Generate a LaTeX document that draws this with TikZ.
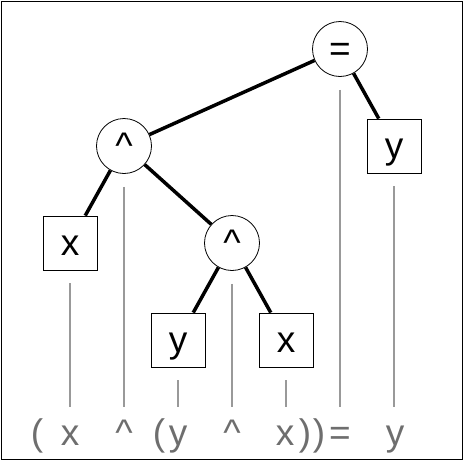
\documentclass[tikz,border=0pt]{standalone}
\usepackage{fontspec}
\setmainfont{Liberation Sans}
\usetikzlibrary{positioning}

\begin{document}
\begin{tikzpicture}[x=1pt,y=-1pt,
	every node/.style={font=\fontsize{37}{40}\selectfont},
	op/.style={circle,draw,line width=0.8pt,minimum size=55pt,inner sep=0pt,text height=30pt,text depth=5pt},
	leaf/.style={rectangle,draw,line width=0.8pt,minimum size=54pt,inner sep=0pt,text height=30pt,text depth=5pt},
	branch/.style={line width=3.5pt},
	guide/.style={draw=black!40,line width=1.6pt},
	token/.style={text=black!57,anchor=base,inner sep=0pt}]

	\useasboundingbox (0,0) rectangle (464,461);
	\draw[line width=1pt] (1.5,1.5) rectangle (462.5,459.5);

	% expression tree
	\node[op] (eq) at (340,49) {=};
	\node[op] (powA) at (124,146) {\textasciicircum};
	\node[leaf] (yA) at (394,146) {y};
	\node[leaf] (xA) at (70,243) {x};
	\node[op] (powB) at (232,243) {\textasciicircum};
	\node[leaf] (yB) at (178,340) {y};
	\node[leaf] (xB) at (286,340) {x};

	\draw[branch] (eq) -- (powA);
	\draw[branch] (eq) -- (yA);
	\draw[branch] (powA) -- (xA);
	\draw[branch] (powA) -- (powB);
	\draw[branch] (powB) -- (yB);
	\draw[branch] (powB) -- (xB);

	% source text below
	\coordinate (base) at (0,407);
	\foreach \n in {eq,powA,yA,xA,powB,yB,xB}
		\draw[guide] ([yshift=-13pt]\n.south) -- (\n.south |- base);

	\foreach \px/\ch [count=\i] in {37/{(},70/x,124/\textasciicircum,159/{(},178/y,232/\textasciicircum,
			285/x,305/{)},319/{)},340/=,395/y}
		\node[token] (tok\i) at (\px,445) {\ch};
\end{tikzpicture}
\end{document}
